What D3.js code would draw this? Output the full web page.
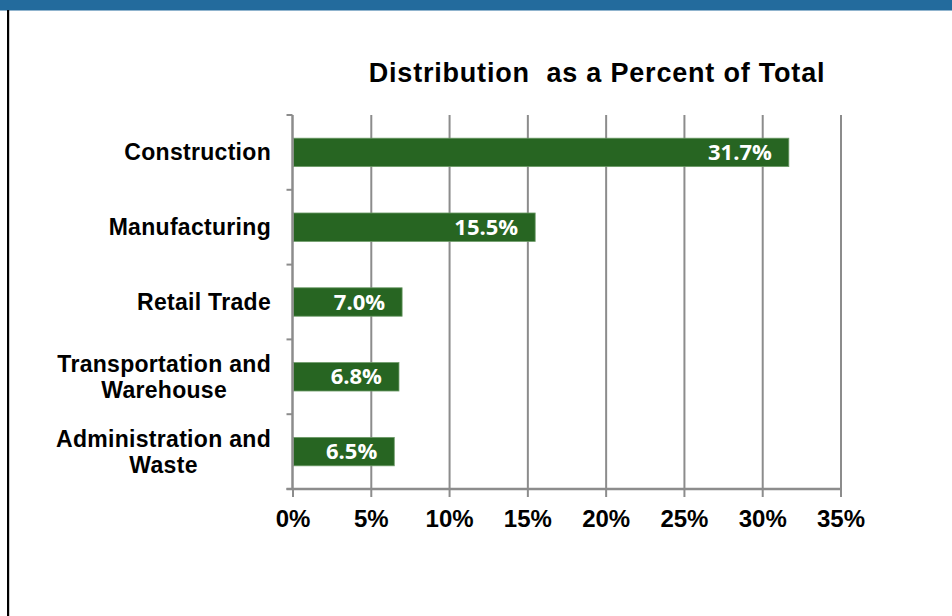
<!DOCTYPE html>
<html>
<head>
<meta charset="utf-8">
<script src="https://cdn.jsdelivr.net/npm/d3@7"></script>
<style>
  body { margin: 0; background: #fff; }
  svg { display: block; }
  .cat { font-family: "Liberation Sans", Arial, sans-serif; font-weight: bold; font-size: 23px; letter-spacing: 0.3px; fill: #000; }
  .tick text { font-family: "Liberation Sans", Arial, sans-serif; font-weight: bold; font-size: 24px; fill: #000; }
  .val { font-family: "Open Sans", sans-serif; font-weight: bold; font-size: 22px; fill: #fff; }
</style>
</head>
<body>
<svg id="chart"></svg>
<script>
// data
var categories = ["Construction", "Manufacturing", "Retail Trade", "Transportation and\nWarehouse", "Administration and\nWaste"];
var values = [31.7, 15.5, 7.0, 6.8, 6.5];
var xTicks = [0, 5, 10, 15, 20, 25, 30, 35];
var title = "Distribution\u00a0 as a Percent of Total";

var svgWidth = 952, svgHeight = 616;
var margin = { top: 115, left: 292.5, right: 111.5, bottom: 127 };
var width = svgWidth - margin.left - margin.right;
var height = svgHeight - margin.top - margin.bottom;
var gridColor = "#8c8c8c";

var svg = d3.select("#chart").attr("width", svgWidth).attr("height", svgHeight);

// header band and left border
svg.append("rect").attr("x", 0).attr("y", 0).attr("width", svgWidth).attr("height", 10.5).style("fill", "#236b9d");
svg.append("rect").attr("x", 7).attr("y", 10).attr("width", 2.2).attr("height", svgHeight - 10).style("fill", "#000");

svg.append("text")
    .attr("x", 597).attr("y", 82)
    .attr("text-anchor", "middle")
    .style("font-family", "'Liberation Sans', Arial, sans-serif")
    .style("font-weight", "bold")
    .style("font-size", "27px")
    .style("letter-spacing", "0.8px")
    .text(title);

var g = svg.append("g").attr("transform", "translate(" + [margin.left, margin.top] + ")");

var x = d3.scaleLinear().domain([0, 35]).range([0, width]);
var y = d3.scaleBand().domain(categories).range([0, height]).paddingInner(0.62).paddingOuter(0.31);

// vertical gridlines
g.append("g")
    .attr("transform", "translate(0," + height + ")")
    .call(d3.axisBottom(x).tickValues(xTicks.slice(1)).tickSize(height).tickFormat(""))
    .call(function (s) {
        s.select(".domain").remove();
        s.selectAll(".tick line").attr("y1", 0).attr("y2", -height).attr("stroke", gridColor).attr("stroke-width", 2);
    });

// bars
g.selectAll(".bar")
    .data(values)
    .enter()
    .append("rect")
    .attr("class", "bar")
    .attr("x", x(0) + 1)
    .attr("y", function (d, i) { return y(categories[i]); })
    .attr("width", function (d) { return x(d) - x(0) - 1; })
    .attr("height", y.bandwidth())
    .style("fill", "#276522")
    .style("stroke", "#6c9a67")
    .style("stroke-width", 0.8);

// value labels
g.selectAll(".val")
    .data(values)
    .enter()
    .append("text")
    .attr("class", "val")
    .attr("x", function (d) { return x(d) - 17; })
    .attr("y", function (d, i) { return y(categories[i]) + y.bandwidth() / 2 + 7.5; })
    .attr("text-anchor", "end")
    .text(function (d) { return d3.format(".1f")(d) + "%"; });

// bottom axis
g.append("g")
    .attr("transform", "translate(0," + height + ")")
    .call(d3.axisBottom(x).tickValues(xTicks).tickSize(8).tickPadding(13).tickFormat(function (d) { return d + "%"; }))
    .call(function (s) {
        s.select(".domain").attr("stroke", gridColor).attr("stroke-width", 2.5).attr("d", "M-6,0H" + width);
        s.selectAll(".tick line").attr("stroke", gridColor).attr("stroke-width", 2);
    });

// left axis
var bounds = d3.range(categories.length + 1).map(function (i) { return i * height / categories.length; });
var left = g.append("g");
left.append("line").attr("x1", 0).attr("x2", 0).attr("y1", 0).attr("y2", height)
    .attr("stroke", gridColor).attr("stroke-width", 2.5);
left.selectAll(".yt").data(bounds).enter().append("line")
    .attr("x1", -6).attr("x2", 0)
    .attr("y1", function (d) { return d; }).attr("y2", function (d) { return d; })
    .attr("stroke", gridColor).attr("stroke-width", 2);

// category labels (multi-line labels centred as a block, right-aligned)
var labelRight = 271 - margin.left;
categories.forEach(function (c, i) {
    var lines = c.split("\n");
    var cy = y(c) + y.bandwidth() / 2;
    var t = g.append("text").attr("class", "cat");
    var lh = 26;
    lines.forEach(function (l, j) {
        t.append("tspan").attr("x", 0).attr("y", cy + 8 - (lines.length - 1) * lh / 2 + j * lh).text(l);
    });
    if (lines.length === 1) {
        t.attr("text-anchor", "end").selectAll("tspan").attr("x", labelRight);
    } else {
        var w = t.node().getBBox().width;
        t.attr("text-anchor", "middle").selectAll("tspan").attr("x", labelRight - w / 2);
    }
});
</script>
</body>
</html>
